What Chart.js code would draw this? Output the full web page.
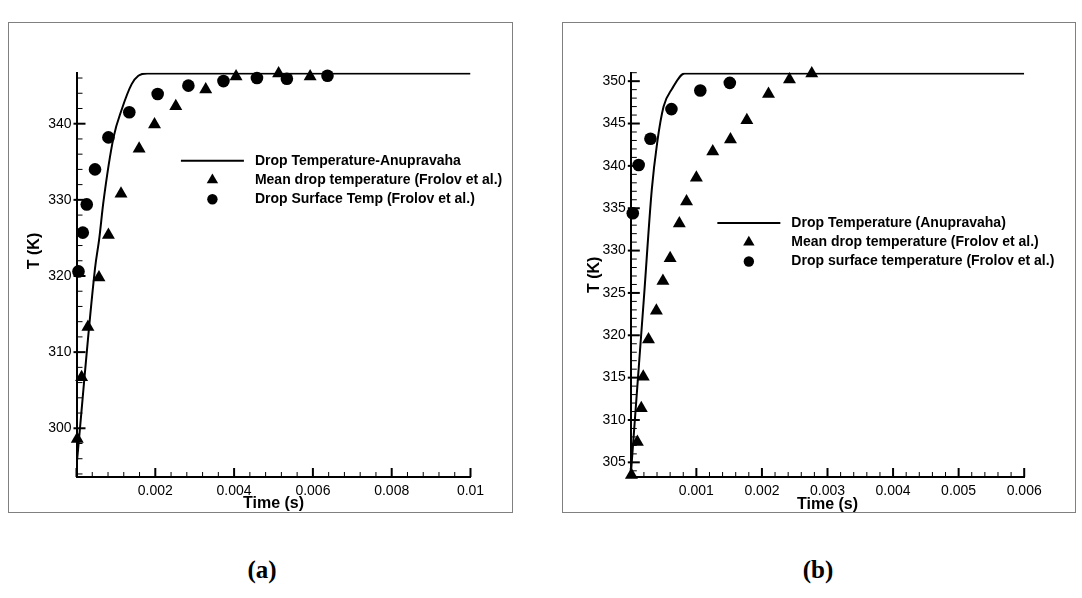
<!DOCTYPE html>
<html>
<head>
<meta charset="utf-8">
<script src="https://cdn.jsdelivr.net/npm/chart.js@4.4.1/dist/chart.umd.min.js"></script>
<style>
  body { margin: 0; background: #fff; width: 1082px; height: 598px; position: relative; overflow: hidden; }
  .frame { position: absolute; border: 1px solid #808080; box-sizing: border-box; }
  canvas { position: absolute; }
  .cap { position: absolute; font: bold 25px 'Liberation Serif', serif; transform: translate(-50%, -50%); }
</style>
</head>
<body>
<div class="frame" style="left:8px; top:22px; width:505px; height:491px;"></div>
<div class="frame" style="left:562px; top:22px; width:514px; height:491px;"></div>
<canvas id="chartA" width="505" height="495" style="left:8px; top:22px;"></canvas>
<canvas id="chartB" width="514" height="495" style="left:562px; top:22px;"></canvas>
<div class="cap" style="left:262px; top:570px;">(a)</div>
<div class="cap" style="left:818px; top:570px;">(b)</div>

<script>
// panel (a)
const labelsA = ['Drop Temperature-Anupravaha', 'Mean drop temperature (Frolov et al.)', 'Drop Surface Temp (Frolov et al.)'];
const timeLineA = [0, 0.00047, 0.00058, 0.00068, 0.00094, 0.00115, 0.0014, 0.00157, 0.0018, 0.01];
const tempLineA = [295.0, 321.0, 325.0, 329.6, 338.2, 341.9, 345.2, 346.3, 346.6, 346.6];
const timeMeanA = [0.00002, 0.00013, 0.00029, 0.00057, 0.00081, 0.00113, 0.00159, 0.00198, 0.00252, 0.00328, 0.00405, 0.00513, 0.00593];
const tempMeanA = [298.6, 306.7, 313.3, 319.8, 325.4, 330.8, 336.7, 339.9, 342.3, 344.5, 346.2, 346.6, 346.2];
const timeSurfA = [0.00005, 0.00016, 0.00026, 0.00047, 0.00081, 0.00134, 0.00206, 0.00284, 0.00373, 0.00458, 0.00534, 0.00637];
const tempSurfA = [320.6, 325.7, 329.4, 334.0, 338.2, 341.5, 343.9, 345.0, 345.6, 346.0, 345.9, 346.3];
const xTicksA = [0.002, 0.004, 0.006, 0.008, 0.01];
const yTicksA = [300, 310, 320, 330, 340];

// panel (b)
const labelsB = ['Drop Temperature (Anupravaha)', 'Mean drop temperature (Frolov et al.)', 'Drop surface temperature (Frolov et al.)'];
const timeLineB = [0, 0.0001, 0.0002, 0.00032, 0.0004, 0.0005, 0.00063, 0.00082, 0.006];
const tempLineB = [303.5, 314.0, 324.4, 337.2, 342.6, 347.0, 349.1, 350.9, 350.9];
const timeMeanB = [0.00001, 0.0001, 0.00016, 0.00019, 0.00027, 0.00039, 0.00049, 0.0006, 0.00074, 0.00085, 0.001, 0.00125, 0.00152, 0.00177, 0.0021, 0.00242, 0.00276];
const tempMeanB = [303.5, 307.4, 311.4, 315.1, 319.5, 322.9, 326.4, 329.1, 333.2, 335.8, 338.6, 341.7, 343.1, 345.4, 348.5, 350.2, 350.9];
const timeSurfB = [0.00003, 0.00012, 0.0003, 0.00062, 0.00106, 0.00151];
const tempSurfB = [334.4, 340.1, 343.2, 346.7, 348.9, 349.8];
const xTicksB = [0.001, 0.002, 0.003, 0.004, 0.005, 0.006];
const yTicksB = [305, 310, 315, 320, 325, 330, 335, 340, 345, 350];

Chart.defaults.font.family = "'Liberation Sans', Arial, sans-serif";
Chart.defaults.font.size = 14;
Chart.defaults.color = '#000';

const pts = (xs, ys) => xs.map((x, i) => ({x: x, y: ys[i]}));

// tecplot style: ticks pointing into the plot, minor ticks, titles, legend inside
const tecplotAxes = {
    id: 'tecplotAxes',
    afterDatasetsDraw(chart, args, o) {
        const ctx = chart.ctx, a = chart.chartArea;
        const xs = chart.scales.x, ys = chart.scales.y;
        ctx.save();
        ctx.strokeStyle = '#000';
        const n = Math.round((xs.max - xs.min) / o.xMinor);
        for (let i = 0; i <= n; i++) {
            const major = i % o.xPer === 0;
            const px = xs.getPixelForValue(xs.min + i * o.xMinor);
            ctx.lineWidth = major ? 2 : 1;
            ctx.beginPath();
            ctx.moveTo(px, a.bottom);
            ctx.lineTo(px, a.bottom - (major ? 9 : 5));
            ctx.stroke();
        }
        const start = Math.ceil(ys.min / o.yMinor);
        for (let k = start; k * o.yMinor <= ys.max + 1e-9; k++) {
            const major = k % o.yPer === 0;
            const py = ys.getPixelForValue(k * o.yMinor);
            ctx.lineWidth = major ? 2 : 1;
            ctx.beginPath();
            ctx.moveTo(a.left - (major ? 3 : 0), py);
            ctx.lineTo(a.left + (major ? 9 : 6), py);
            ctx.stroke();
        }

        // axis titles
        ctx.fillStyle = '#000';
        ctx.font = "bold 16px 'Liberation Sans', Arial, sans-serif";
        ctx.textAlign = 'center';
        ctx.textBaseline = 'alphabetic';
        ctx.fillText(o.xTitle, (a.left + a.right) / 2, a.bottom + o.xTitleDy);
        ctx.save();
        ctx.translate(a.left - o.yTitleDx, a.top + o.yTitleFrac * (a.bottom - a.top));
        ctx.rotate(-Math.PI / 2);
        ctx.textBaseline = 'middle';
        ctx.fillText(o.yTitle, 0, 0);
        ctx.restore();

        // legend
        const lx = a.left + o.legX * (a.right - a.left);
        const ly = a.top + o.legY * (a.bottom - a.top);
        ctx.font = "bold 14px 'Liberation Sans', Arial, sans-serif";
        ctx.textAlign = 'left';
        ctx.textBaseline = 'middle';
        chart.data.datasets.forEach((ds, i) => {
            const y = ly + i * 19.2;
            if (ds.showLine) {
                ctx.lineWidth = 2;
                ctx.beginPath();
                ctx.moveTo(lx, y);
                ctx.lineTo(lx + 63, y);
                ctx.stroke();
            } else {
                Chart.helpers.drawPoint(ctx, {
                    pointStyle: ds.pointStyle, rotation: 0, borderWidth: 0,
                    radius: ds.pointStyle === 'triangle' ? 6.6 : 5.2
                }, lx + 31.5, y);
            }
            ctx.fillText(ds.label, lx + 74, y);
        });
        ctx.restore();
    }
};

const makeChart = (id, labels, line, mean, surf, xTicks, yTicks, cfg) => {
    const datasets = [
        {label: labels[0], data: line, showLine: true, pointRadius: 0, borderColor: '#000', borderWidth: 2,
            cubicInterpolationMode: 'monotone'},
        {label: labels[1], data: mean, pointStyle: 'triangle', pointRadius: 7.5, backgroundColor: '#000',
            borderWidth: 0, clip: false},
        {label: labels[2], data: surf, pointStyle: 'circle', pointRadius: 6.3, backgroundColor: '#000',
            borderWidth: 0, clip: false}
    ];
    return new Chart(document.getElementById(id), {
        type: 'scatter',
        data: {datasets: datasets},
        options: {
            responsive: false,
            animation: false,
            events: [],
            layout: {padding: {top: 50.7, right: cfg.padRight, left: 0, bottom: 0}},
            plugins: {
                legend: {display: false},
                tooltip: {enabled: false},
                tecplotAxes: cfg.axes
            },
            scales: {
                x: {
                    type: 'linear', min: 0, max: cfg.xMax,
                    grid: {display: false, drawTicks: false},
                    border: {display: true, color: '#000', width: 2},
                    afterBuildTicks: s => { s.ticks = xTicks.map(v => ({value: v})); },
                    afterFit: s => { s.height = 40; },
                    ticks: {padding: 6, maxRotation: 0, autoSkip: false, font: {size: 14}, callback: v => String(v)}
                },
                y: {
                    type: 'linear', min: cfg.yMin, max: cfg.yMax,
                    grid: {display: false, drawTicks: false},
                    border: {display: true, color: '#000', width: 2},
                    afterBuildTicks: s => { s.ticks = yTicks.map(v => ({value: v})); },
                    afterFit: s => { s.width = cfg.yWidth; },
                    ticks: {padding: 5, autoSkip: false, font: {size: 14}, callback: v => String(v)}
                }
            }
        },
        plugins: [tecplotAxes]
    });
};

makeChart('chartA', labelsA, pts(timeLineA, tempLineA), pts(timeMeanA, tempMeanA), pts(timeSurfA, tempSurfA),
    xTicksA, yTicksA, {
        xMax: 0.01, yMin: 293.6, yMax: 346.7, yWidth: 68.5, padRight: 42.5,
        axes: {xMinor: 0.0004, xPer: 5, yMinor: 2, yPer: 5, xTitle: 'Time (s)', yTitle: 'T (K)',
            xTitleDy: 31, yTitleDx: 41.5, yTitleFrac: 0.441, legX: 0.265, legY: 0.218}
    });

makeChart('chartB', labelsB, pts(timeLineB, tempLineB), pts(timeMeanB, tempMeanB), pts(timeSurfB, tempSurfB),
    xTicksB, yTicksB, {
        xMax: 0.006, yMin: 303.27, yMax: 351.0, yWidth: 68.8, padRight: 51.8,
        axes: {xMinor: 0.0002, xPer: 5, yMinor: 1, yPer: 5, xTitle: 'Time (s)', yTitle: 'T (K)',
            xTitleDy: 32, yTitleDx: 36.5, yTitleFrac: 0.5, legX: 0.22, legY: 0.372}
    });
</script>
</body>
</html>
